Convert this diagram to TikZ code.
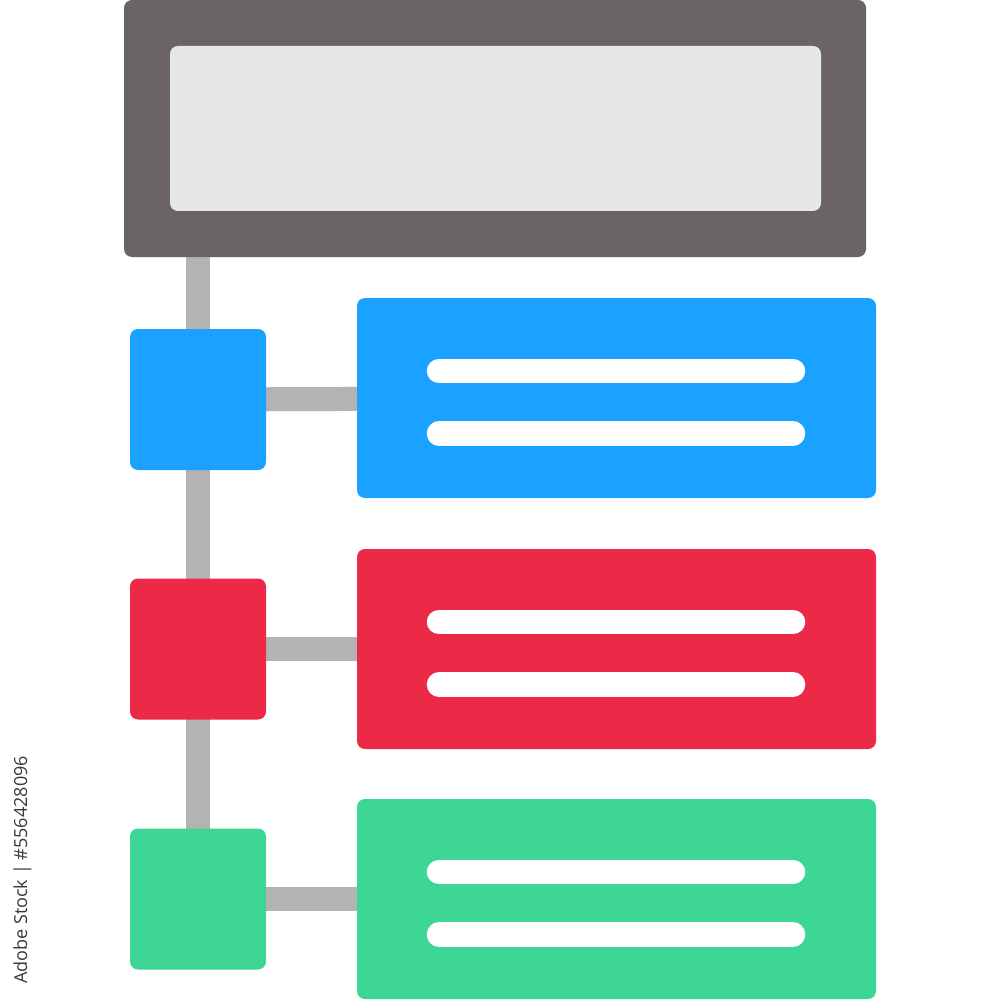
\documentclass[tikz,border=0pt]{standalone}
\usepackage{fontspec}
\newfontfamily\wmfont{Open Sans}
\usetikzlibrary{backgrounds}
\definecolor{darkc}{HTML}{6A6469}
\definecolor{lightc}{HTML}{E6E7E9}
\definecolor{grayc}{HTML}{B3B3B3}
\definecolor{bluec}{HTML}{1BA1FF}
\definecolor{redc}{HTML}{EC2A48}
\definecolor{greenc}{HTML}{3DD695}
\definecolor{wmc}{HTML}{3A3A3A}
\begin{document}
\begin{tikzpicture}[x=1pt,y=-1pt,
  box/.style={rounded corners=8pt, inner sep=0pt, outer sep=0pt, draw=none},
  sq/.style={box, minimum width=136pt, minimum height=141pt},
  card/.style={box, minimum width=519pt, minimum height=200pt},
  conn/.style={draw=grayc, line width=24pt},
  bar/.style={draw=white, line width=24.5pt, line cap=round}]
\useasboundingbox (0,0) rectangle (1000,1000);
% header
\node[box, fill=darkc, minimum width=742pt, minimum height=257pt] (top) at (495,128.5) {};
\node[box, fill=lightc, minimum width=651pt, minimum height=165pt] (inner) at (495.5,128.5) {};
% squares
\node[sq, fill=bluec]  (s1) at (198,399.5) {};
\node[sq, fill=redc]   (s2) at (198,649) {};
\node[sq, fill=greenc] (s3) at (198,899) {};
% cards
\node[card, fill=bluec]  (c1) at (616.5,398) {};
\node[card, fill=redc]   (c2) at (616.5,649) {};
\node[card, fill=greenc] (c3) at (616.5,899) {};
% connectors
\begin{scope}[on background layer]
\fill[white] (0,0) rectangle (1000,1000);
\draw[conn] (s1.center |- top.south) -- (s3.center);
\draw[conn] (s1.center) -- (c1.center);
\draw[conn] (s2.center) -- (c2.center);
\draw[conn] (s3.center) -- (c3.center);
\end{scope}
% text bars
\foreach \c in {c1,c2,c3}{
  \draw[bar] ([xshift=-177.5pt,yshift=27pt]\c.center) -- ([xshift=176.5pt,yshift=27pt]\c.center);
  \draw[bar] ([xshift=-177.5pt,yshift=-35.5pt]\c.center) -- ([xshift=176.5pt,yshift=-35.5pt]\c.center);
}
% watermark caption
\node[rotate=90, inner sep=0pt, text=wmc, font=\wmfont\fontsize{18}{18}\selectfont] (wm) at (22.5,870) {Adobe Stock | \#556428096};
\end{tikzpicture}
\end{document}
